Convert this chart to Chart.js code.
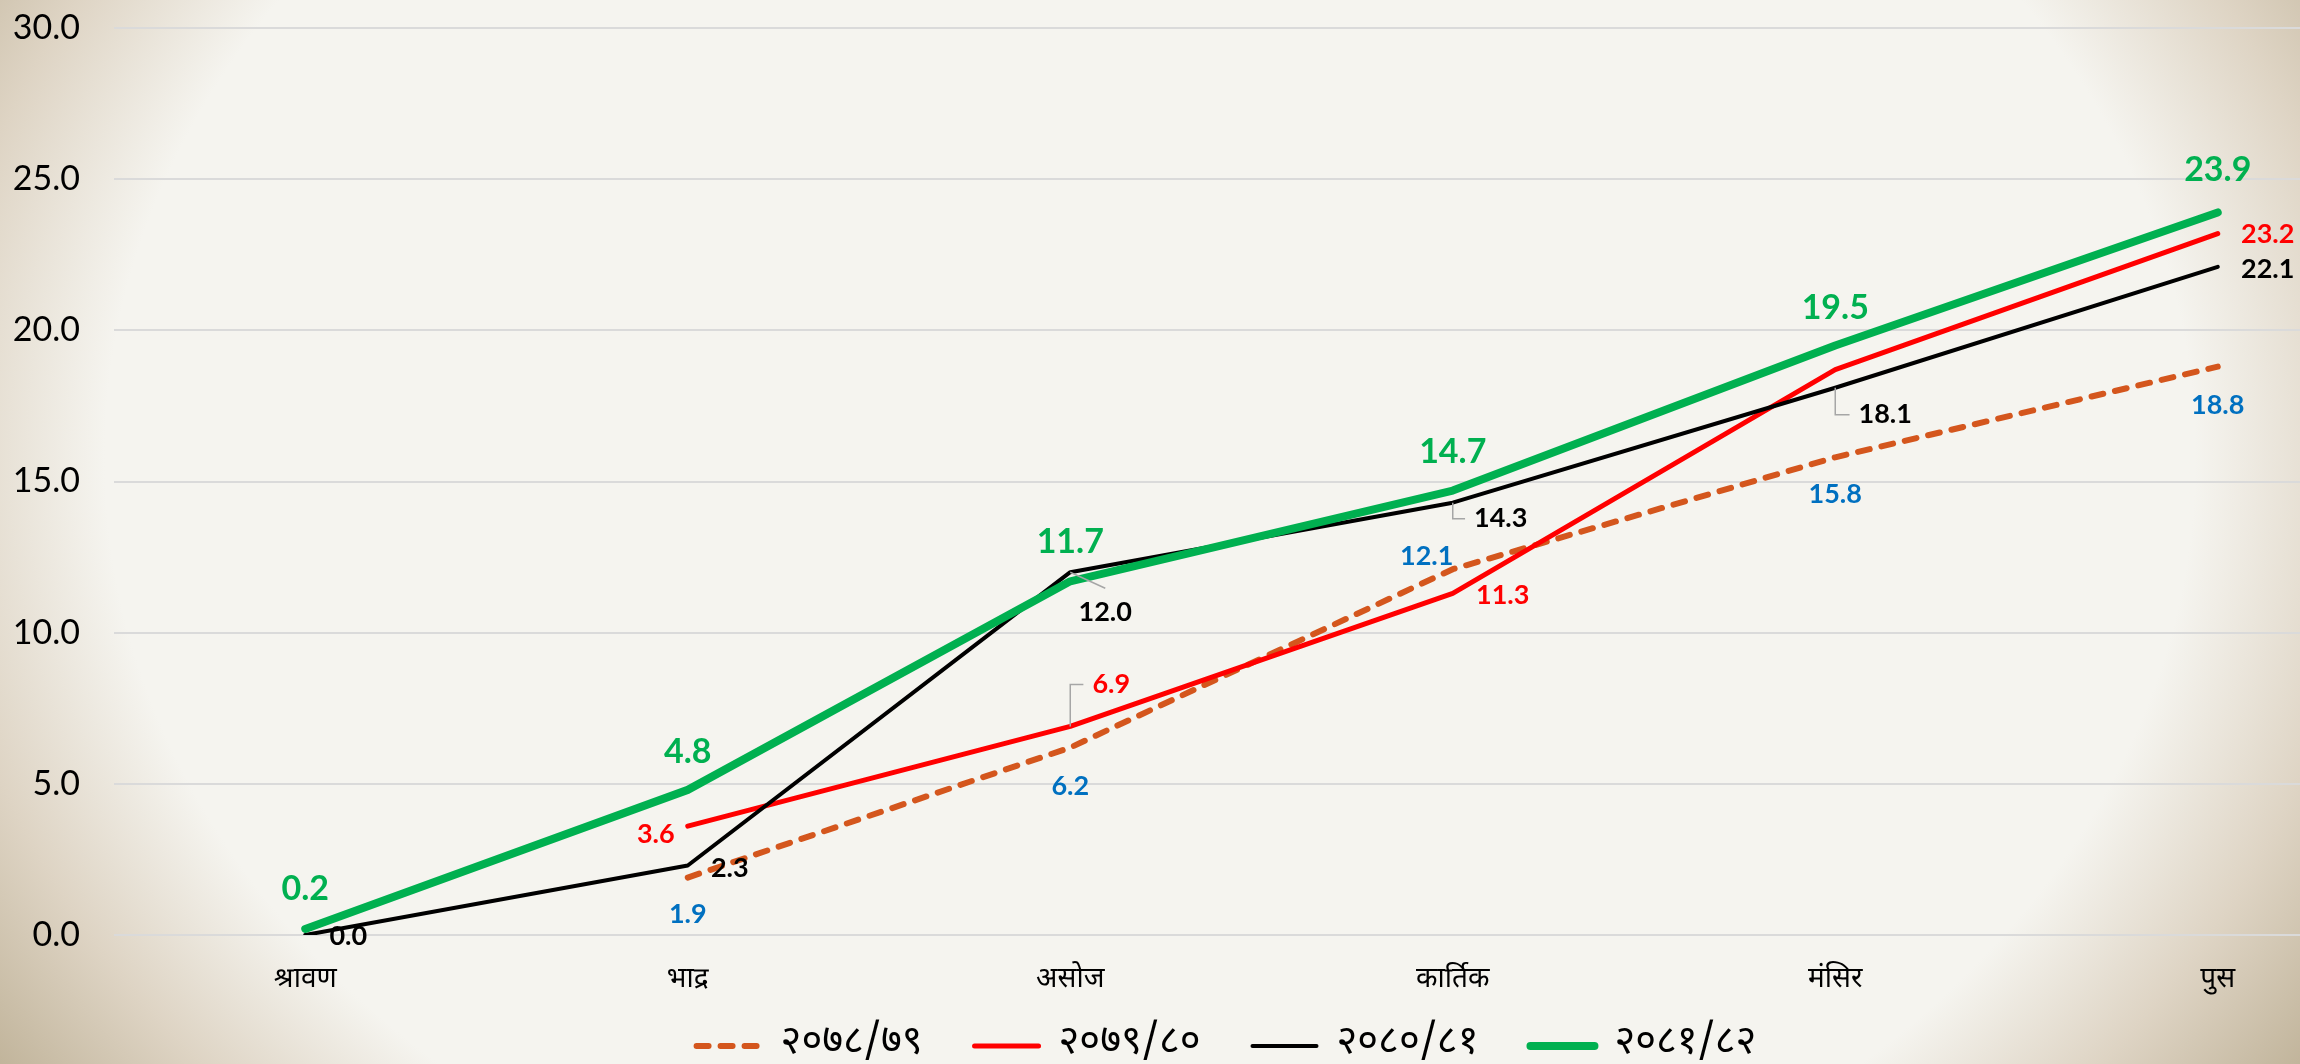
<!DOCTYPE html>
<html>
<head>
<meta charset="utf-8">
<script src="https://cdn.jsdelivr.net/npm/chart.js@4.4.1/dist/chart.umd.min.js"></script>
<style>
  html, body { margin: 0; padding: 0; overflow: hidden; width: 2300px; height: 1064px; }
  #wrap {
    position: relative; width: 2300px; height: 1064px; overflow: hidden;
    background: radial-gradient(ellipse 1340px 1060px at 50% 43%, #f5f4ef 0%, #f5f4ef 78%, #ded4c4 91%, #b6a88b 108%);
  }
  #c { position: absolute; left: 0; top: 0; }
</style>
</head>
<body>
<div id="wrap"><canvas id="c" width="2410" height="1076" style="width:2410px;height:1076px"></canvas></div>
<script>
// ---- data ----
const months = ['श्रावण', 'भाद्र', 'असोज', 'कार्तिक', 'मंसिर', 'पुस'];
const seriesNames = ['२०७८/७९', '२०७९/८०', '२०८०/८१', '२०८१/८२'];
const fy7879 = [null, 1.9, 6.2, 12.1, 15.8, 18.8];
const fy7980 = [null, 3.6, 6.9, 11.3, 18.7, 23.2];
const fy8081 = [0.0, 2.3, 12.0, 14.3, 18.1, 22.1];
const fy8182 = [0.2, 4.8, 11.7, 14.7, 19.5, 23.9];
const yMin = 0, yMax = 30, yStep = 5;

// ---- styling ----
const DEV_FONT = '"Noto Sans Devanagari", "Lohit Devanagari", "Noto Sans", sans-serif';
const NUM_FONT = 'Lato, "Open Sans", sans-serif';

// label placement per dataset: [dx, dy, leader]
const labelLayout = [
  { color: '#0070C0', font: 'bold 27px ' + NUM_FONT,
    pos: [null, [0, 37], [0, 39], [-26, -13], [0, 37], [0, 39]] },
  { color: '#FF0000', font: 'bold 27px ' + NUM_FONT,
    pos: [null, [-32, 8], [41, -42, 'elbow'], [50, 2], null, [50, 1]] },
  { color: '#000000', font: 'bold 27px ' + NUM_FONT,
    pos: [[43, 1], [42, 3], [35, 40, 'line'], [48, 16, 'elbow'], [50, 27, 'elbow'], [50, 2]] },
  { color: '#00B050', font: 'bold 34px ' + NUM_FONT,
    pos: [[0, -40], [0, -38], [0, -39], [0, -39], [0, -37], [0, -42]] }
];

const labelPlugin = {
  id: 'valueLabels',
  beforeDraw(chart) {
    // let axis tick labels extend beyond their (narrow) axis boxes
    Object.values(chart.scales).forEach((s) => { s._computeLabelArea = () => undefined; });
  },
  afterDatasetsDraw(chart) {
    const ctx = chart.ctx;
    chart.data.datasets.forEach((ds, di) => {
      const meta = chart.getDatasetMeta(di);
      const spec = labelLayout[di];
      meta.data.forEach((pt, i) => {
        const v = ds.data[i];
        const s = spec.pos[i];
        if (v === null || v === undefined || !s) return;
        const px = pt.x, py = pt.y;
        const lx = px + s[0], ly = py + s[1];
        const text = v.toFixed(1);
        ctx.save();
        ctx.font = spec.font;
        const w = ctx.measureText(text).width;
        if (s[2]) {
          ctx.strokeStyle = '#A6A6A6';
          ctx.lineWidth = 1.5;
          ctx.beginPath();
          ctx.moveTo(px, py);
          if (s[2] === 'elbow') {
            ctx.lineTo(px, ly);
            ctx.lineTo(lx - w / 2 - 9, ly);
          } else {
            ctx.lineTo(lx, ly - 24);
          }
          ctx.stroke();
        }
        ctx.fillStyle = spec.color;
        ctx.textAlign = 'center';
        ctx.textBaseline = 'middle';
        ctx.fillText(text, lx, ly);
        ctx.restore();
      });
    });
  }
};

const common = { pointRadius: 0, pointHoverRadius: 0, tension: 0, fill: false,
                 borderCapStyle: 'round', borderJoinStyle: 'round' };

new Chart(document.getElementById('c'), {
  type: 'line',
  data: {
    labels: months,
    datasets: [
      Object.assign({}, common, { label: seriesNames[0], data: fy7879, borderColor: '#D4561D',
        backgroundColor: '#D4561D', borderWidth: 6, borderDash: [12, 12], order: 3 }),
      Object.assign({}, common, { label: seriesNames[1], data: fy7980, borderColor: '#FF0000',
        backgroundColor: '#FF0000', borderWidth: 5, order: 2 }),
      Object.assign({}, common, { label: seriesNames[2], data: fy8081, borderColor: '#000000',
        backgroundColor: '#000000', borderWidth: 4, order: 1 }),
      Object.assign({}, common, { label: seriesNames[3], data: fy8182, borderColor: '#00B050',
        backgroundColor: '#00B050', borderWidth: 8, order: 0 })
    ]
  },
  options: {
    responsive: false,
    devicePixelRatio: 1,
    animation: false,
    layout: { padding: { left: 44, right: 1, top: 28, bottom: 0 } },
    scales: {
      x: {
        type: 'category',
        offset: true,
        grid: { display: false },
        border: { display: false },
        ticks: { font: { family: DEV_FONT, size: 28 }, color: '#000', padding: 22, maxRotation: 0, autoSkip: false },
        afterFit(s) { s.height = 39; }
      },
      y: {
        min: yMin, max: yMax,
        grid: { color: '#DADADA', lineWidth: 2, drawTicks: false },
        border: { display: false },
        ticks: { stepSize: yStep, font: { family: NUM_FONT, size: 34 }, color: '#000', padding: 34,
                 callback: (v) => Number(v).toFixed(1) },
        afterFit(s) { s.width = 70; s.paddingTop = 0; s.paddingBottom = 0; }
      }
    },
    plugins: {
      tooltip: { enabled: false },
      legend: {
        position: 'bottom',
        labels: {
          usePointStyle: true, pointStyle: 'line', pointStyleWidth: 64,
          sort: (a, b) => a.datasetIndex - b.datasetIndex,
          generateLabels(chart) {
            const items = Chart.defaults.plugins.legend.labels.generateLabels(chart);
            items.forEach((it) => {
              const ds = chart.data.datasets[it.datasetIndex];
              it.lineDash = ds.borderDash || [];
              it.lineWidth = ds.borderWidth;
              it.strokeStyle = ds.borderColor;
              it.lineCap = 'round';
            });
            return items;
          },
          font: { family: DEV_FONT, size: 40 }, color: '#000', padding: 52
        }
      }
    }
  },
  plugins: [labelPlugin]
});
</script>
</body>
</html>
